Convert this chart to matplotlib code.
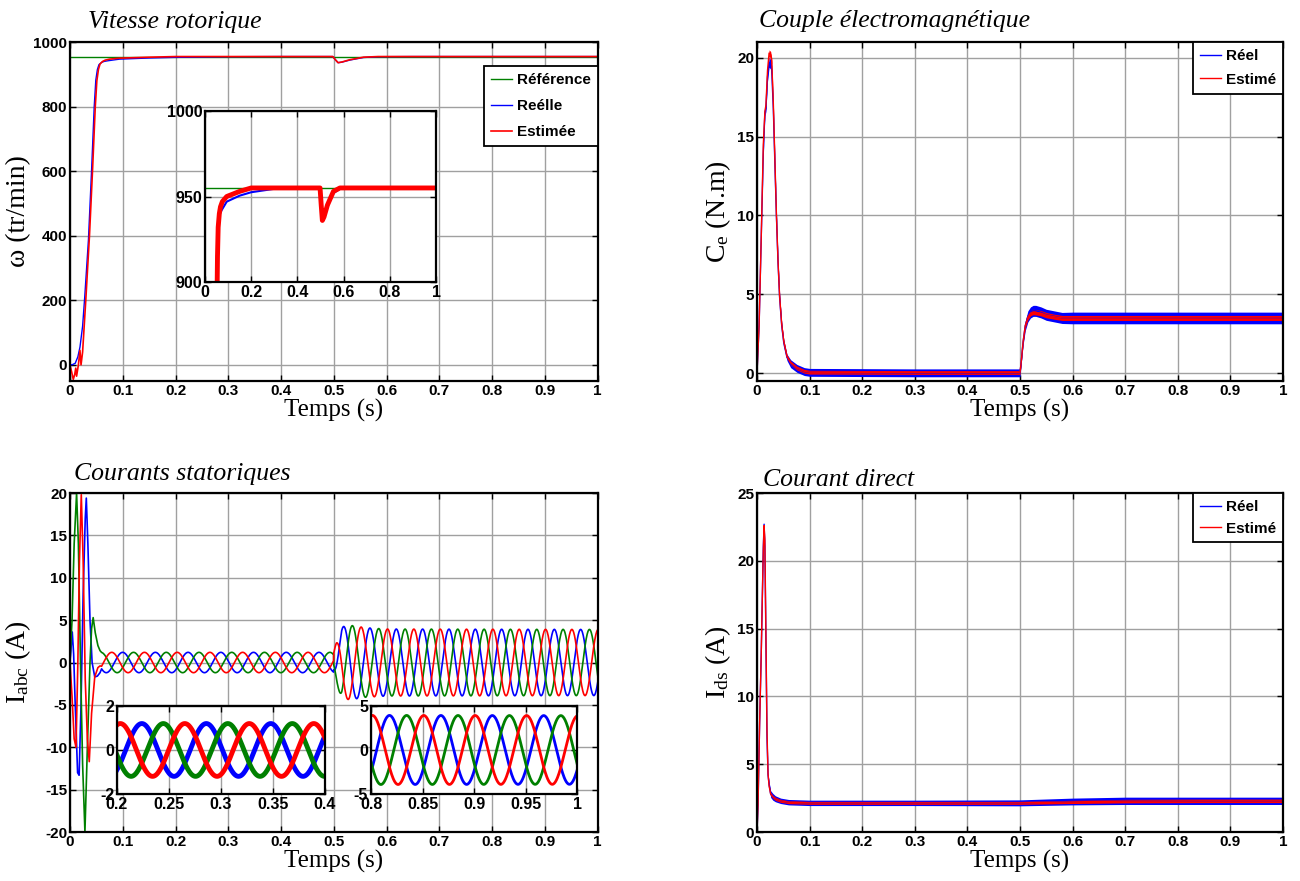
import matplotlib
matplotlib.use('Agg')
import matplotlib.pyplot as plt
import numpy as np
from matplotlib.ticker import FuncFormatter

plt.rcParams['font.family'] = ['Liberation Sans Narrow', 'Liberation Sans', 'DejaVu Sans']
plt.rcParams['font.weight'] = 'bold'
plt.rcParams['mathtext.fontset'] = 'custom'
plt.rcParams['mathtext.rm'] = 'Liberation Serif:weight=normal'
plt.rcParams['mathtext.it'] = 'Liberation Serif:italic:weight=normal'

SERIF = ['Liberation Serif', 'DejaVu Serif']
GREEN, BLUE, RED = '#008000', '#0000ff', '#ff0000'

# ---- vitesse rotorique (tr/min) ----
w_ref_t = [0, 1]
w_ref = [955, 955]
w_real_t = [0, 0.005, 0.01, 0.015, 0.019, 0.024, 0.028, 0.035, 0.041, 0.046, 0.049, 0.052,
            0.055, 0.06, 0.065, 0.072, 0.094, 0.15, 0.2, 0.3, 0.4, 0.498, 0.503, 0.508, 0.515,
            0.53, 0.556, 0.584, 0.65, 1.0]
w_real = [0, 1, 5, 25, 55, 120, 210, 386, 603, 800, 882, 915,
          930, 937, 940, 942, 947, 950.5, 952.5, 954.5, 955, 955, 945, 936, 937.5,
          944, 952, 954.5, 955, 955]
w_est_t = [0, 0.003, 0.0063, 0.009, 0.011, 0.0126, 0.016, 0.019, 0.021, 0.024, 0.03, 0.037,
           0.043, 0.048, 0.051, 0.054, 0.057, 0.062, 0.067, 0.075, 0.094, 0.15, 0.2, 0.3,
           0.498, 0.503, 0.508, 0.515, 0.53, 0.556, 0.584, 0.65, 1.0]
w_est = [0, -20, -45, -30, -10, -35, 0, 45, 0, 40, 200, 400,
         610, 800, 880, 915, 932, 940, 944, 947, 950, 953, 955, 955,
         955, 945, 936, 938, 945, 953, 955, 955, 955]

# ---- couple electromagnetique (N.m) ----
ce_t = [0, 0.004, 0.008, 0.012, 0.015, 0.017, 0.02, 0.023, 0.026, 0.028, 0.031, 0.034, 0.037,
        0.04, 0.043, 0.047, 0.051, 0.057, 0.064, 0.076, 0.09, 0.1, 0.3, 0.5, 0.502, 0.506,
        0.51, 0.515, 0.52, 0.525, 0.53, 0.54, 0.55, 0.565, 0.58, 0.6, 0.8, 1.0]
ce_real = [0, 3, 8.5, 14, 16.5, 16.8, 18.8, 19.7, 19.6, 19.2, 16.8, 13.3, 9.9,
           7, 4.8, 3, 1.9, 1.0, 0.6, 0.3, 0.1, 0.05, 0.02, 0.02, 0.6, 2.0,
           3.0, 3.6, 3.85, 3.95, 3.95, 3.85, 3.7, 3.6, 3.5, 3.5, 3.5, 3.5]
ce_est = [0, 3, 8.5, 14.5, 16.6, 17, 19.2, 20.3, 20.2, 19.8, 17.2, 13.6, 10,
          7.1, 4.9, 3.1, 2.0, 1.05, 0.65, 0.32, 0.12, 0.06, 0.04, 0.04, 0.6, 2.0,
          3.0, 3.55, 3.8, 3.88, 3.86, 3.8, 3.68, 3.58, 3.5, 3.5, 3.5, 3.5]
ce_real_band = [0, 0, 0, 0.1, 0.2, 0.2, 0.3, 0.3, 0.3, 0.3, 0.2, 0.2, 0.2,
                0.2, 0.2, 0.2, 0.2, 0.2, 0.25, 0.25, 0.25, 0.25, 0.25, 0.25, 0.15, 0.2,
                0.3, 0.35, 0.35, 0.35, 0.35, 0.35, 0.35, 0.35, 0.35, 0.37, 0.37, 0.37]
ce_est_band = [0, 0, 0, 0.1, 0.15, 0.15, 0.2, 0.2, 0.2, 0.2, 0.15, 0.12, 0.12,
               0.12, 0.12, 0.12, 0.12, 0.12, 0.12, 0.12, 0.12, 0.12, 0.12, 0.12, 0.1, 0.12,
               0.15, 0.17, 0.17, 0.17, 0.17, 0.17, 0.17, 0.16, 0.16, 0.16, 0.16, 0.16]

# ---- courant direct (A) ----
ids_t = [0, 0.002, 0.005, 0.008, 0.01, 0.012, 0.0135, 0.015, 0.017, 0.019, 0.021, 0.023,
         0.026, 0.03, 0.035, 0.045, 0.06, 0.1, 0.3, 0.5, 0.6, 0.7, 0.85, 1.0]
ids_real = [0, 2, 8, 13, 17, 21, 22.7, 21, 14, 7, 4.2, 3.5,
            2.8, 2.6, 2.45, 2.3, 2.2, 2.15, 2.15, 2.15, 2.25, 2.3, 2.3, 2.3]
ids_est = [0, 2, 8, 13, 17, 20.8, 22.6, 21.5, 14.5, 7.5, 4.3, 3.4,
           2.8, 2.6, 2.45, 2.3, 2.2, 2.15, 2.15, 2.15, 2.22, 2.28, 2.3, 2.3]
ids_real_band = [0, 0, 0, 0, 0, 0.1, 0.1, 0.1, 0.1, 0.1, 0.15, 0.2,
                 0.25, 0.25, 0.22, 0.2, 0.2, 0.2, 0.2, 0.22, 0.25, 0.27, 0.27, 0.27]
ids_est_band = [0, 0, 0, 0, 0, 0.05, 0.05, 0.05, 0.05, 0.05, 0.08, 0.1,
                0.12, 0.12, 0.12, 0.11, 0.11, 0.11, 0.11, 0.11, 0.12, 0.13, 0.13, 0.13]

# ---- courants statoriques (A) : demarrage ----
ia_start_t = [0, 0.004, 0.008, 0.0115, 0.015, 0.018, 0.0215, 0.025, 0.029, 0.033, 0.0366,
              0.041, 0.047, 0.053, 0.057]
ia_start = [0, -4, -9, -10, 0, 12, 19.8, 12, -2, -9, -11.7, -6, -1.7, -0.6, -0.4]
ib_start_t = [0, 0.0044, 0.007, 0.01, 0.0145, 0.0174, 0.021, 0.025, 0.029, 0.031, 0.034,
              0.038, 0.042, 0.047, 0.052, 0.057]
ib_start = [0, 3.6, 1, -5, -13, -13.3, -5, 8, 17, 19.4, 14, 5, 0, -1.7, -1.6, -1.2]
ic_start_t = [0, 0.004, 0.008, 0.0126, 0.016, 0.02, 0.024, 0.0284, 0.033, 0.038, 0.041,
              0.044, 0.048, 0.053, 0.057]
ic_start = [0, 5, 14, 20, 14, 0, -12, -20, -10, 0, 4, 5.3, 3.5, 2.0, 1.4]
# regime etabli : enveloppe, periode et instant de crete de la phase rouge
i_env_t = [0.06, 0.5, 0.505, 0.515, 0.53, 0.56, 0.6, 1.0]
i_env = [1.2, 1.2, 2.5, 4.2, 4.4, 4.1, 3.95, 3.9]
i_period = [0.062, 0.0499]
i_red_peak = [0.2032, 0.8013]

t_ss = np.arange(0.06, 1.0005, 0.0005)
amp = np.interp(t_ss, i_env_t, i_env)
seg = (t_ss >= 0.5).astype(int)
per = np.take(i_period, seg)
tpk = np.take(i_red_peak, seg)
ph = 2 * np.pi * (t_ss - tpk) / per
ia = np.concatenate([ia_start, amp * np.cos(ph)])
ib = np.concatenate([ib_start, amp * np.cos(ph - 2 * np.pi / 3)])
ic = np.concatenate([ic_start, amp * np.cos(ph - 4 * np.pi / 3)])
ta = np.concatenate([ia_start_t, t_ss])
tb = np.concatenate([ib_start_t, t_ss])
tc = np.concatenate([ic_start_t, t_ss])

fmt = FuncFormatter(lambda v, _: f'{v:g}')


def style(ax, xt, yt, fs=11):
    ax.set_xticks(xt)
    ax.set_yticks(yt)
    ax.xaxis.set_major_formatter(fmt)
    ax.yaxis.set_major_formatter(fmt)
    ax.grid(True, color='#a0a0a0', lw=1.0)
    ax.set_axisbelow(True)
    ax.tick_params(direction='in', top=True, right=True, length=4, width=1,
                   labelsize=fs, pad=2)
    for s in ax.spines.values():
        s.set_linewidth(1.6)


def title(ax, txt, x, y):
    ax.text(x, y, txt, transform=ax.transAxes, family=SERIF, style='italic',
            fontweight='normal', fontsize=18.5, va='baseline', ha='left')


def labels(ax, ylab, ylx):
    ax.set_xlabel('Temps (s)', family=SERIF, fontweight='normal', fontsize=18, labelpad=1)
    ax.set_ylabel(ylab, family=SERIF, fontweight='normal', fontsize=20)
    ax.yaxis.set_label_coords(ylx, 0.5)


def legend(ax, hdl, names, anchor, spacing):
    lg = ax.legend(hdl, names, loc='upper right', bbox_to_anchor=anchor, fancybox=False,
                   edgecolor='black', framealpha=1, borderaxespad=0, handlelength=1.4,
                   handletextpad=0.3, labelspacing=spacing, borderpad=0.45,
                   prop={'weight': 'bold', 'size': 11})
    lg.get_frame().set_linewidth(1.3)


fig = plt.figure(figsize=(13, 8.81), dpi=100)
xt = np.arange(0, 1.01, 0.1)

# vitesse
ax1 = fig.add_axes([0.0538, 0.5675, 0.406, 0.3848])
l1, = ax1.plot(w_ref_t, w_ref, color=GREEN, lw=1.0)
l2, = ax1.plot(w_real_t, w_real, color=BLUE, lw=1.0)
l3, = ax1.plot(w_est_t, w_est, color=RED, lw=1.2)
ax1.set_xlim(0, 1)
ax1.set_ylim(-50, 1000)
style(ax1, xt, np.arange(0, 1001, 200))
title(ax1, 'Vitesse rotorique', 0.034, 1.041)
labels(ax1, 'ω (tr/min)', -0.074)
legend(ax1, [l1, l2, l3], ['Référence', 'Reélle', 'Estimée'], (1, 0.929), 0.8)

ins1 = fig.add_axes([0.1577, 0.6799, 0.1777, 0.1941])
ins1.plot(w_ref_t, w_ref, color=GREEN, lw=1.0)
ins1.plot(w_real_t, w_real, color=BLUE, lw=1.5)
ins1.plot(w_est_t, w_est, color=RED, lw=3.5)
ins1.set_xlim(0, 1)
ins1.set_ylim(900, 1000)
style(ins1, np.arange(0, 1.01, 0.2), [900, 950, 1000], fs=11.5)

# couple
ax2 = fig.add_axes([0.5823, 0.5675, 0.4046, 0.3848])
cr = np.array(ce_real)
ce = np.array(ce_est)
ax2.fill_between(ce_t, cr - ce_real_band, cr + ce_real_band, color=BLUE, lw=0)
m1, = ax2.plot(ce_t, ce_real, color=BLUE, lw=1.0)
ax2.fill_between(ce_t, ce - ce_est_band, ce + ce_est_band, color=RED, lw=0)
m2, = ax2.plot(ce_t, ce_est, color=RED, lw=1.0)
ax2.set_xlim(0, 1)
ax2.set_ylim(-0.5, 21)
style(ax2, xt, np.arange(0, 21, 5))
title(ax2, 'Couple électromagnétique', 0.004, 1.044)
labels(ax2, r'$\mathrm{C_e}$ (N.m)', -0.046)
legend(ax2, [m1, m2], ['Réel', 'Estimé'], (1, 1), 0.65)

# courants statoriques
ax3 = fig.add_axes([0.0538, 0.0556, 0.406, 0.3848])
ax3.plot(tb, ib, color=BLUE, lw=1.2)
ax3.plot(tc, ic, color=GREEN, lw=1.2)
ax3.plot(ta, ia, color=RED, lw=1.2)
ax3.set_xlim(0, 1)
ax3.set_ylim(-20, 20)
style(ax3, xt, np.arange(-20, 21, 5))
title(ax3, 'Courants statoriques', 0.008, 1.038)
labels(ax3, r'$\mathrm{I_{abc}}$ (A)', -0.07)

ins2 = fig.add_axes([0.09, 0.0988, 0.16, 0.0999])
ins3 = fig.add_axes([0.2854, 0.0988, 0.1585, 0.0999])
for ax, lw in [(ins2, 3.5), (ins3, 2.0)]:
    ax.plot(tb, ib, color=BLUE, lw=lw)
    ax.plot(tc, ic, color=GREEN, lw=lw)
    ax.plot(ta, ia, color=RED, lw=lw)
ins2.set_xlim(0.2, 0.4)
ins2.set_ylim(-2, 2)
style(ins2, np.arange(0.2, 0.401, 0.05), [-2, 0, 2], fs=11.5)
ins3.set_xlim(0.8, 1.0)
ins3.set_ylim(-5, 5)
style(ins3, np.arange(0.8, 1.001, 0.05), [-5, 0, 5], fs=11.5)

# courant direct
ax4 = fig.add_axes([0.5823, 0.0556, 0.4046, 0.3848])
dr = np.array(ids_real)
de = np.array(ids_est)
ax4.fill_between(ids_t, dr - ids_real_band, dr + ids_real_band, color=BLUE, lw=0)
n1, = ax4.plot(ids_t, ids_real, color=BLUE, lw=1.0)
ax4.fill_between(ids_t, de - ids_est_band, de + ids_est_band, color=RED, lw=0)
n2, = ax4.plot(ids_t, ids_est, color=RED, lw=1.0)
ax4.set_xlim(0, 1)
ax4.set_ylim(0, 25)
style(ax4, xt, np.arange(0, 26, 5))
title(ax4, 'Courant direct', 0.011, 1.02)
labels(ax4, r'$\mathrm{I_{ds}}$ (A)', -0.046)
legend(ax4, [n1, n2], ['Réel', 'Estimé'], (1, 1), 0.5)

fig.savefig('out.png', dpi=100)
